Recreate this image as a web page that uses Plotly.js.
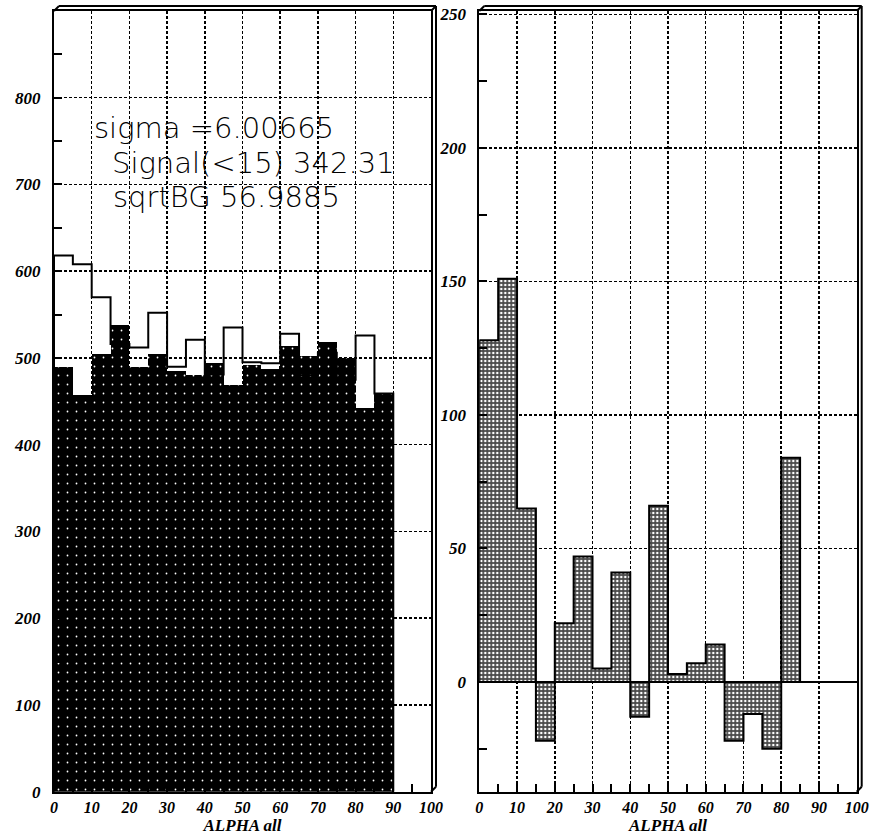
<!DOCTYPE html>
<html>
<head>
<meta charset="utf-8">
<script src="https://cdn.plot.ly/plotly-3.0.1.min.js"></script>
<style>html,body{margin:0;padding:0;background:#fff;}#chart{width:875px;height:836px;}</style>
</head>
<body>
<div id="chart"></div>
<script>
// ---- data ----
const binEdges = [0,5,10,15,20,25,30,35,40,45,50,55,60,65,70,75,80,85,90];
const backgroundCounts = [490,457,505,538,490,505,485,480,494,469,492,487,514,502,518,500,442,459];
const onCounts        = [618,608,570,516,512,552,490,521,481,535,495,494,528,480,506,475,526,459];
const signalCounts    = [128,151,65,-22,22,47,5,41,-13,66,3,7,14,-22,-12,-25,84,0];
const xTickVals = [0,10,20,30,40,50,60,70,80,90,100];
const leftYTicks = [0,100,200,300,400,500,600,700,800];
const rightYTicks = [0,50,100,150,200,250];
const statLines = ["sigma =6.00665", "Signal(<15) 342.31", "sqrtBG 56.9885"];
const xTitle = "ALPHA all";

// ---- helpers ----
const centers = binEdges.slice(0,-1).map((e,i)=>(e+binEdges[i+1])/2);
const widths = binEdges.slice(0,-1).map((e,i)=>binEdges[i+1]-e);
function stepPath(vals){
  const xs=[binEdges[0]], ys=[0];
  vals.forEach((v,i)=>{xs.push(binEdges[i],binEdges[i+1]); ys.push(v,v);});
  xs.push(binEdges[binEdges.length-1]); ys.push(0);
  return {xs,ys};
}
const W=875,H=836;
const fx=p=>p/W, fy=p=>1-p/H;
const L={x0:54,x1:431}, R={x0:479.3,x1:856.7}, TOP=11, BOT=791.7;

const tickFont={family:"Liberation Serif, serif", size:17, color:"#000", weight:"bold", style:"italic"};
const xTickFont={family:"Liberation Serif, serif", size:16, color:"#000", weight:"bold", style:"italic"};
const titleFont={family:"Liberation Serif, serif", size:17, color:"#000", weight:"bold", style:"italic"};

const onStep = stepPath(onCounts);
const sigStep = stepPath(signalCounts);

const traces = [
  {type:"bar", x:centers, y:backgroundCounts, width:widths, xaxis:"x", yaxis:"y",
   marker:{color:"#000", line:{width:0},
     pattern:{shape:".", bgcolor:"#000", fgcolor:"#fff", size:9, solidity:0.03}},
   hoverinfo:"skip", showlegend:false},
  {type:"scatter", mode:"lines", x:onStep.xs, y:onStep.ys, xaxis:"x", yaxis:"y",
   line:{color:"#000", width:2}, hoverinfo:"skip", showlegend:false},
  {type:"bar", x:centers, y:signalCounts, width:widths, xaxis:"x2", yaxis:"y2",
   marker:{color:"#666", line:{width:0},
     pattern:{shape:".", bgcolor:"#4a4a4a", fgcolor:"#fff", size:4, solidity:0.3}},
   hoverinfo:"skip", showlegend:false},
  {type:"scatter", mode:"lines", x:sigStep.xs, y:sigStep.ys, xaxis:"x2", yaxis:"y2",
   line:{color:"#000", width:2}, hoverinfo:"skip", showlegend:false}
];

function xAxis(dom, anchor){
  return {domain:dom, anchor:anchor, range:[0,100], tickvals:xTickVals, ticktext:xTickVals.map(String),
    showline:true, mirror:true, linecolor:"#000", linewidth:2,
    ticks:"inside", ticklen:8, tickwidth:2, tickcolor:"#000",
    minor:{dtick:5, tick0:0, ticks:"inside", ticklen:8, tickwidth:2, tickcolor:"#000", showgrid:false},
    showgrid:true, gridcolor:"#000", gridwidth:1.5, griddash:"3px,2px",
    zeroline:false, tickfont:xTickFont, ticklabelstandoff:0,
    title:{text:xTitle, font:titleFont, standoff:4}, fixedrange:true};
}
function yAxis(dom, anchor, range, tv, minorStep){
  return {domain:dom, anchor:anchor, range:range, tickvals:tv, ticktext:tv.map(String),
    showline:true, mirror:true, linecolor:"#000", linewidth:2,
    ticks:"inside", ticklen:8, tickwidth:2, tickcolor:"#000",
    minor:{dtick:minorStep, tick0:0, ticks:"inside", ticklen:8, tickwidth:2, tickcolor:"#000", showgrid:false},
    showgrid:true, gridcolor:"#000", gridwidth:1.5, griddash:"3px,2px",
    zeroline:false, tickfont:tickFont, ticklabelstandoff:8, fixedrange:true};
}

const d=5;
const shapes=[];
function box3d(P){
  const seg=(a,b,c,e)=>shapes.push({type:"line", xref:"paper", yref:"paper",
    x0:fx(a), y0:fy(b), x1:fx(c), y1:fy(e), line:{color:"#000", width:2}});
  seg(P.x0+d, TOP-d, P.x1+d, TOP-d);
  seg(P.x1+d, TOP-d, P.x1+d, BOT-d);
  seg(P.x0, TOP, P.x0+d, TOP-d);
  seg(P.x1, TOP, P.x1+d, TOP-d);
  seg(P.x1, BOT, P.x1+d, BOT-d);
}
box3d(L); box3d(R);
// solid zero line on the difference plot
shapes.push({type:"line", xref:"x2", yref:"y2", x0:0, x1:100, y0:0, y1:0, line:{color:"#000", width:2}});

const statX=[10.1,14.9,15.1], statY=[765,725,686];
const annotations = statLines.map((t,i)=>({xref:"x", yref:"y", x:statX[i], y:statY[i], text:t,
  showarrow:false, xanchor:"left", yanchor:"middle",
  font:{family:"DejaVu Sans, sans-serif", size:29, color:"#000", weight:300}}));

const dom=[fy(BOT), fy(TOP)];
const layout = {
  width:W, height:H, margin:{l:0,r:0,t:0,b:0},
  paper_bgcolor:"#fff", plot_bgcolor:"#fff", showlegend:false, bargap:0,
  xaxis: xAxis([fx(L.x0), fx(L.x1)], "y"),
  yaxis: yAxis(dom, "x", [0,900], leftYTicks, 50),
  xaxis2: xAxis([fx(R.x0), fx(R.x1)], "y2"),
  yaxis2: yAxis(dom, "x2", [-41.1,251.3], rightYTicks, 25),
  shapes: shapes, annotations: annotations
};
Plotly.newPlot("chart", traces, layout, {staticPlot:true, displayModeBar:false});
</script>
</body>
</html>
